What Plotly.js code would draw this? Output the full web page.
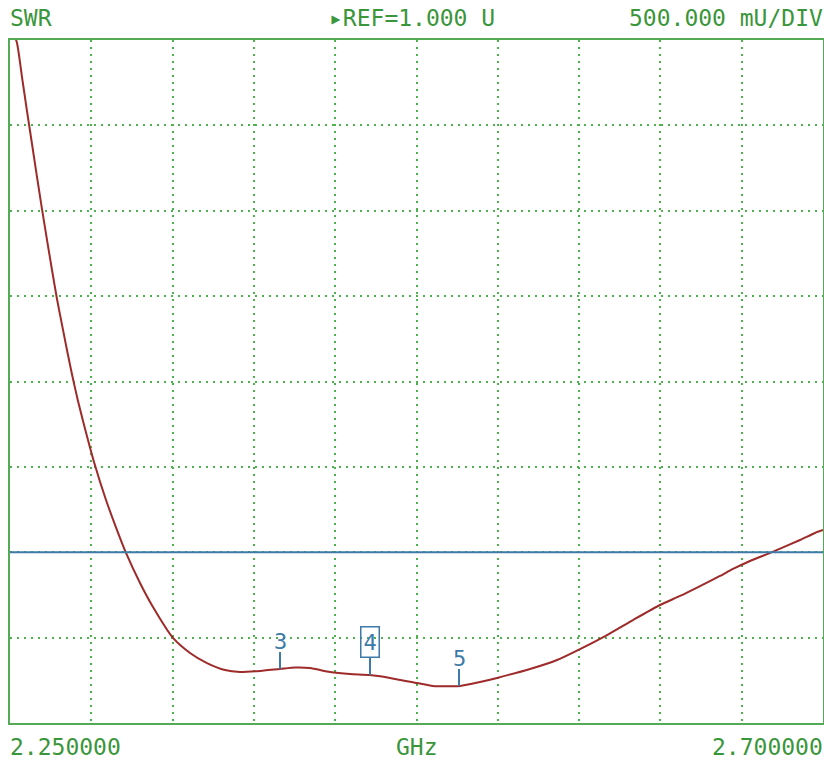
<!DOCTYPE html>
<html>
<head>
<meta charset="utf-8">
<script src="https://cdn.plot.ly/plotly-3.0.1.min.js"></script>
<style>html,body{margin:0;padding:0;background:#fff;}#chart{width:824px;height:764px;}</style>
</head>
<body>
<div id="chart"></div>
<script>
// Frequency (GHz) of the SWR trace samples
const freqGHz = [2.2500, 2.25387, 2.25664, 2.25941, 2.26218, 2.26494, 2.26771, 2.27048, 2.27325, 2.27601,
  2.27934, 2.28210, 2.28487, 2.28764, 2.29041, 2.29650, 2.30314, 2.30923, 2.31421,
  2.32196, 2.32915, 2.34022, 2.34963, 2.35904, 2.36900, 2.37731, 2.38838, 2.39945, 2.40775,
  2.41605, 2.42712, 2.43819, 2.44926, 2.46033, 2.47528, 2.48414, 2.49908, 2.51015, 2.51956,
  2.53783, 2.55277, 2.56550, 2.58045, 2.59484, 2.60978, 2.62085, 2.63192, 2.64299, 2.65019,
  2.65960, 2.67178, 2.68727, 2.69556, 2.70000];
// SWR values (U)
const swr = [5.10, 4.982, 4.783, 4.584, 4.391, 4.198, 4.010, 3.829, 3.653, 3.483,
  3.302, 3.155, 3.015, 2.886, 2.769, 2.529, 2.306, 2.130, 1.996,
  1.820, 1.679, 1.498, 1.410, 1.351, 1.310, 1.299, 1.305, 1.316, 1.325,
  1.322, 1.299, 1.287, 1.281, 1.264, 1.234, 1.217, 1.217, 1.240, 1.264,
  1.316, 1.369, 1.433, 1.515, 1.603, 1.691, 1.744, 1.802, 1.861, 1.902,
  1.949, 2.001, 2.072, 2.113, 2.130];
// Markers
const markerLabels = ['3', '4', '5'];
const markerFreq = [2.39945, 2.44926, 2.49853];
const markerSwr = [1.316, 1.281, 1.217];
const markerBoxed = [false, true, false];
// Limit line, reference and scale
const limitSwr = 2.0;
const refValue = 1.0;
const perDiv = 0.5;
const nDivY = 8;
const startGHz = 2.25, stopGHz = 2.70, nDivX = 10;
const stimMarkerGHz = [2.60259, 2.60923];

const GREEN_TXT = '#3a963a';
const GREEN_LINE = '#55aa55';
const GRID = '#4cb24c';
const RED = '#9e2a2a';
const BLUE = '#3d7aa8';
const FONT = '"DejaVu Sans Mono", "Liberation Mono", monospace';
const TXT = 23;

const trace = {
  x: freqGHz, y: swr, type: 'scatter', mode: 'lines',
  line: {color: RED, width: 2, shape: 'spline', smoothing: 0.6}, hoverinfo: 'skip', showlegend: false
};

const shapes = [
  {type: 'line', xref: 'paper', x0: 0, x1: 1, yref: 'y', y0: limitSwr, y1: limitSwr,
   line: {color: BLUE, width: 2}},
  {type: 'path', xref: 'x', xsizemode: 'pixel', xanchor: startGHz, yref: 'y', ysizemode: 'pixel', yanchor: refValue,
   path: 'M-11,-7 L-3,0 L-11,7 Z', fillcolor: '#2e8b2e', line: {width: 0}},
  {type: 'rect', xref: 'x', x0: stimMarkerGHz[0], x1: stimMarkerGHz[1], yref: 'y', ysizemode: 'pixel', yanchor: refValue,
   y0: -2, y1: -5, fillcolor: BLUE, line: {width: 0}}
];
function txt(text, x, y, xanchor, yshift, xshift) {
  return {text: text, xref: 'paper', yref: 'paper', x: x, y: y, xanchor: xanchor, yanchor: 'middle',
    yshift: yshift, xshift: xshift || 0, showarrow: false, borderpad: 0,
    font: {family: FONT, size: TXT, color: GREEN_TXT}};
}
const annotations = [
  txt('SWR', 0, 1, 'left', 22, -1),
  txt('▸REF=1.000 U', 0.495, 1, 'center', 22),
  txt('500.000 mU/DIV', 1, 1, 'right', 22, 1),
  txt(startGHz.toFixed(6), 0, 0, 'left', -24, -1),
  txt('GHz', 0.5, 0, 'center', -24),
  txt(stopGHz.toFixed(6), 1, 0, 'right', -24, 1)
];
markerLabels.forEach((lab, i) => {
  shapes.push({type: 'line', xref: 'x', x0: markerFreq[i], x1: markerFreq[i], yref: 'y', ysizemode: 'pixel', yanchor: markerSwr[i],
    y0: 0, y1: 17, line: {color: BLUE, width: 2}});
  annotations.push({text: lab, xref: 'x', yref: 'y', x: markerFreq[i], y: markerSwr[i], xanchor: 'center', yanchor: 'bottom',
    yshift: markerBoxed[i] ? 17 : 15, showarrow: false,
    font: {family: FONT, size: 22, color: BLUE},
    bordercolor: markerBoxed[i] ? BLUE : 'rgba(0,0,0,0)', borderwidth: markerBoxed[i] ? 1.5 : 0, borderpad: markerBoxed[i] ? 2 : 0});
});

const layout = {
  width: 824, height: 764,
  margin: {l: 10, r: 1, t: 40, b: 41, pad: 0},
  paper_bgcolor: '#ffffff', plot_bgcolor: '#ffffff',
  xaxis: {range: [startGHz, stopGHz], tick0: startGHz, dtick: (stopGHz - startGHz) / nDivX, showticklabels: false, ticks: '',
    showgrid: true, gridcolor: GRID, gridwidth: 2, griddash: '2px,5px', zeroline: false,
    showline: true, linecolor: GREEN_LINE, linewidth: 2, mirror: true},
  yaxis: {range: [refValue, refValue + perDiv * nDivY], tick0: refValue, dtick: perDiv, showticklabels: false, ticks: '',
    showgrid: true, gridcolor: GRID, gridwidth: 2, griddash: '2px,5px', zeroline: false,
    showline: true, linecolor: GREEN_LINE, linewidth: 2, mirror: true},
  shapes: shapes,
  annotations: annotations,
  showlegend: false
};

Plotly.newPlot('chart', [trace], layout, {displayModeBar: false, staticPlot: true});
</script>
</body>
</html>
